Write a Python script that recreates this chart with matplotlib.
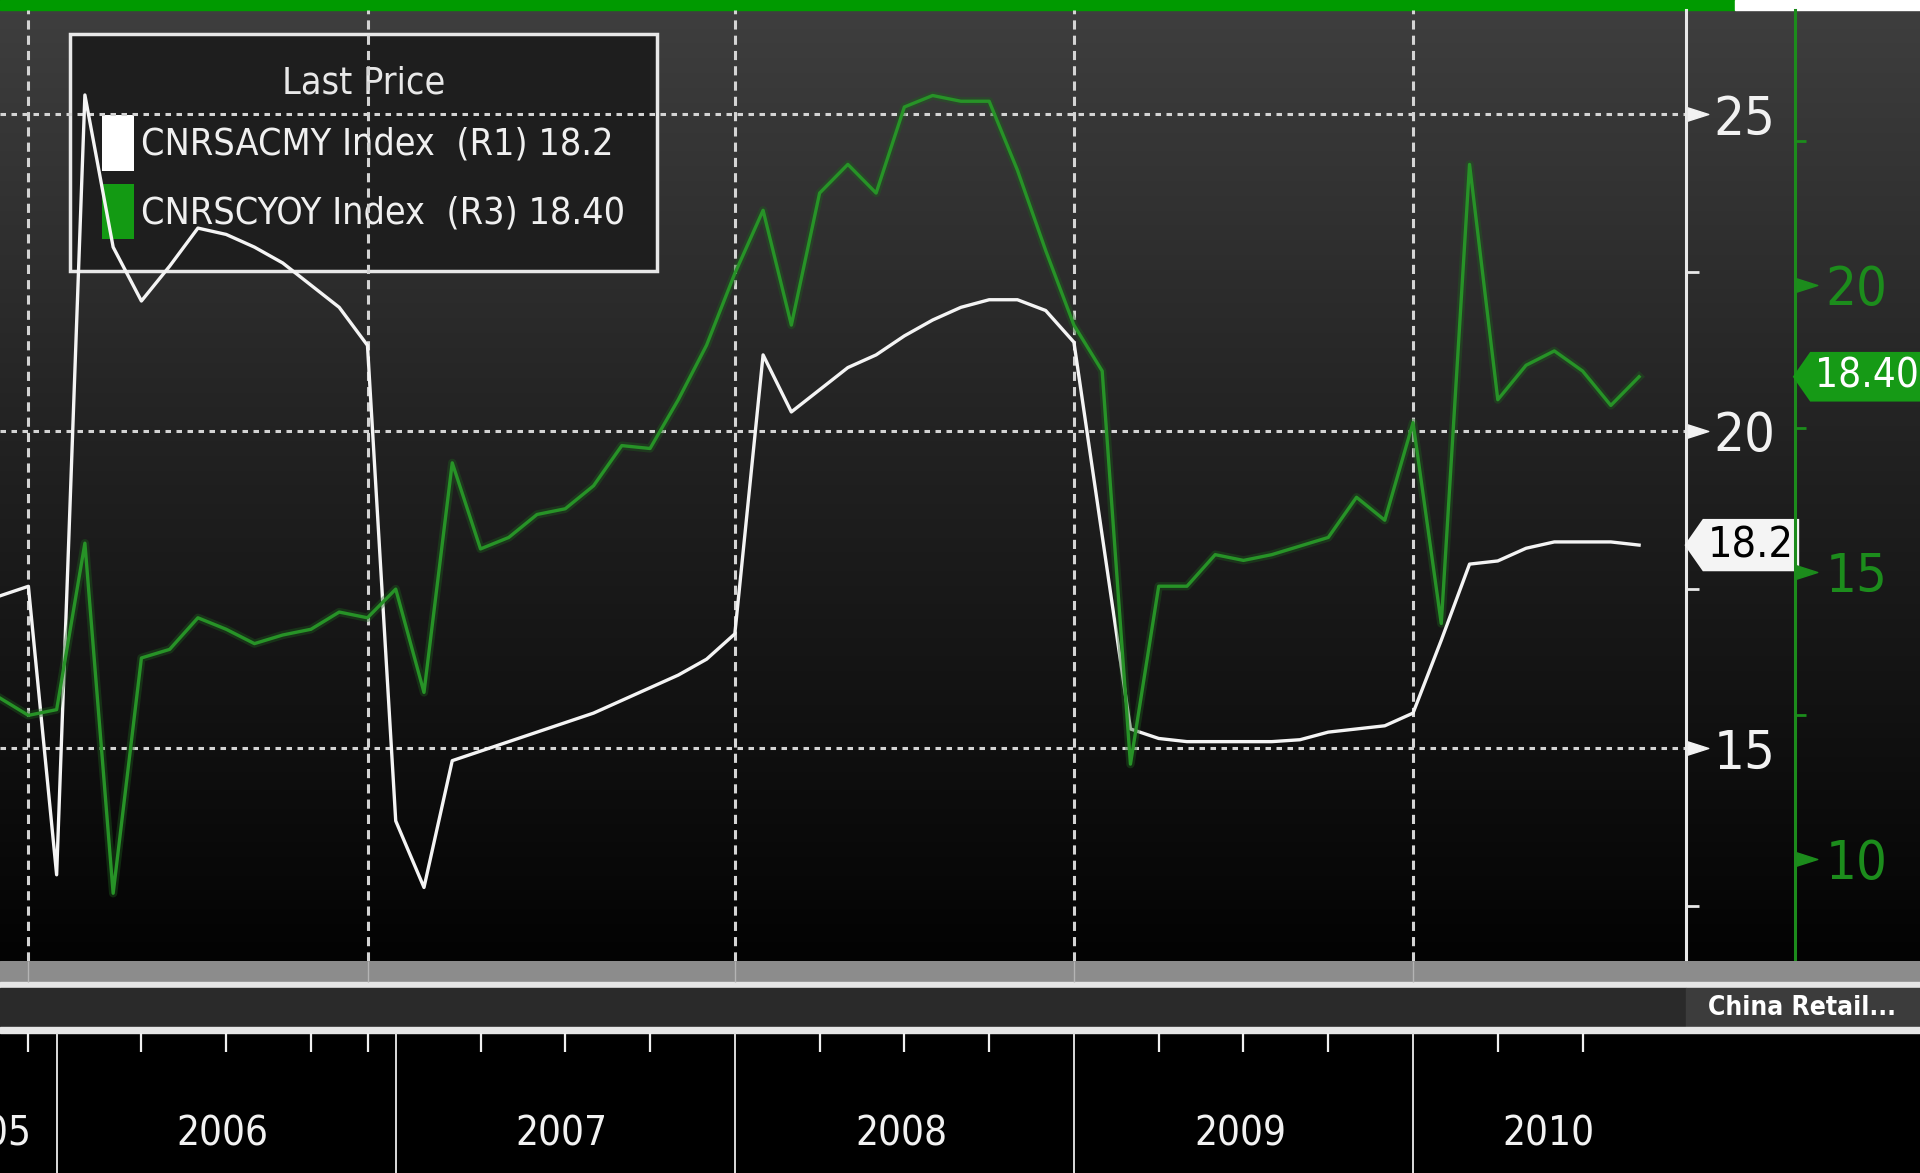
import numpy as np
import matplotlib
matplotlib.use('Agg')
import matplotlib.pyplot as plt
from matplotlib.colors import LinearSegmentedColormap
from matplotlib.patches import Patch, Rectangle
from matplotlib.path import Path

plt.rcParams['font.family'] = ['DejaVu Sans']
plt.rcParams['font.stretch'] = 'condensed'

# monthly points, first one plotted at Nov 2005
start_year, start_month = 2005, 10

# CNRSACMY Index (white, left scale R1)
retail_ytd = [17.4, 17.55, 13.0, 25.3, 22.9, 22.05, 22.6, 23.2, 23.1, 22.9,
              22.65, 22.3, 21.95, 21.35, 13.85, 12.8, 14.8, 14.95, 15.1, 15.25,
              15.4, 15.55, 15.75, 15.95, 16.15, 16.4, 16.8, 21.2, 20.3, 20.65,
              21.0, 21.2, 21.5, 21.75, 21.95, 22.07, 22.07, 21.9, 21.4, 18.35,
              15.3, 15.15, 15.1, 15.1, 15.1, 15.1, 15.13, 15.25, 15.3, 15.35,
              15.55, 16.7, 17.9, 17.95, 18.15, 18.25, 18.25, 18.25, 18.2]

# CNRSCYOY Index (green, scale R3)
retail_yoy = [12.8, 12.5, 12.6, 15.5, 9.4, 13.5, 13.65, 14.2, 14.0, 13.75,
              13.9, 14.0, 14.3, 14.2, 14.7, 12.9, 16.9, 15.4, 15.6, 16.0,
              16.1, 16.5, 17.2, 17.15, 18.0, 18.95, 20.2, 21.3, 19.3, 21.6,
              22.1, 21.6, 23.1, 23.3, 23.2, 23.2, 22.0, 20.6, 19.3, 18.5,
              11.65, 14.75, 14.75, 15.3, 15.2, 15.3, 15.45, 15.6, 16.3, 15.9,
              17.6, 14.1, 22.1, 18.0, 18.6, 18.85, 18.5, 17.9, 18.4]

white_ticks = [15, 20, 25]
white_minor = [12.5, 17.5, 22.5]
green_ticks = [10, 15, 20]
green_minor = [12.5, 17.5, 22.5]

grid_x = [2005.917, 2006.917, 2008.0, 2009.0, 2010.0]
year_ticks = [2006, 2007, 2008, 2009, 2010]
quarter_ticks = [2005.917, 2006.25, 2006.5, 2006.75, 2006.917, 2007.25, 2007.5,
                 2007.75, 2008.25, 2008.5, 2008.75, 2009.25, 2009.5, 2009.75,
                 2010.25, 2010.5]
year_labels = ['2005', '2006', '2007', '2008', '2009', '2010']
year_label_x = [2005.79, 2006.49, 2007.49, 2008.49, 2009.49, 2010.40]

x = start_year + (start_month + np.arange(len(retail_ytd))) / 12
x_left, x_right = 2005.833, 2010.805

W, H = 1920, 1173
PLOT_R, PLOT_T, PLOT_B = 1686, 10, 961
GREEN_AX = 1795

fig = plt.figure(figsize=(W / 100, H / 100), dpi=100, facecolor='black')

# background gradient + top bar
bg = fig.add_axes([0, 0, 1, 1], zorder=-10)
bg.set_xlim(0, W)
bg.set_ylim(H, 0)
bg.axis('off')
cmap = LinearSegmentedColormap.from_list('bb', ['#3e3e3e', '#1f1f1f', '#030303'])
bg.imshow(np.linspace(0, 1, 256)[:, None], cmap=cmap, aspect='auto',
          extent=(0, W, PLOT_B, PLOT_T))
bg.add_patch(Rectangle((0, 0), 1735, PLOT_T, color='#009a00'))
bg.add_patch(Rectangle((1735, 0), W - 1735, PLOT_T, color='white'))


def flag_shape(x0, y0, width, height, mutation_size):
    pad = 0.12 * mutation_size
    x0, y0 = x0 - pad, y0 - pad
    width, height = width + 2 * pad, height + 2 * pad
    tip = 0.35 * height
    verts = [(x0 - tip, y0 + height / 2), (x0, y0), (x0 + width, y0),
             (x0 + width, y0 + height), (x0, y0 + height), (x0 - tip, y0 + height / 2)]
    codes = [Path.MOVETO] + [Path.LINETO] * 4 + [Path.CLOSEPOLY]
    return Path(verts, codes)


tri = Path([(0, -0.32), (1, 0), (0, 0.32), (0, -0.32)],
           [Path.MOVETO, Path.LINETO, Path.LINETO, Path.CLOSEPOLY])

# main plot (white scale) and green scale
ax = fig.add_axes([0, 1 - PLOT_B / H, PLOT_R / W, (PLOT_B - PLOT_T) / H])
ax2 = ax.twinx()
ax.set_facecolor('none')
ax.set_xlim(x_left, x_right)
ax.set_ylim(11.64, 26.64)
ax.set_xticks([])
for s in ['left', 'top', 'bottom']:
    ax.spines[s].set_visible(False)
ax.spines['right'].set_color('#e8e8e8')
ax.spines['right'].set_linewidth(2.2)
ax.yaxis.tick_right()
ax.set_yticks(white_ticks)
ax.set_yticks(white_minor, minor=True)
ax.tick_params(axis='y', which='major', length=0, pad=20, labelsize=39, labelcolor='#f2f2f2')
ax.tick_params(axis='y', which='minor', length=9, width=2, color='#e8e8e8')
ax.plot([1] * len(white_ticks), white_ticks, ls='none', marker=tri, ms=32,
        color='#f2f2f2', transform=ax.get_yaxis_transform(), clip_on=False)

for v in white_ticks:
    ax.axhline(v, color='#d4d4d4', lw=2.2, ls=(0, (1.8, 1.8)), zorder=1.5)
for g in grid_x:
    ax.axvline(g, color='#d4d4d4', lw=2.2, ls=(0, (3, 2)), zorder=1.5)

ax.plot(x, retail_ytd, color='#f4f4f4', lw=2.4, zorder=3)

handles = [Patch(facecolor='white', label=f'CNRSACMY Index  (R1) {retail_ytd[-1]:.1f}'),
           Patch(facecolor='#139a13', label=f'CNRSCYOY Index  (R3) {retail_yoy[-1]:.2f}')]
leg = ax.legend(handles=handles, title='Last Price', loc='upper left',
                bbox_to_anchor=(70 / PLOT_R, (PLOT_B - 34) / (PLOT_B - PLOT_T)),
                borderaxespad=0, fontsize=27, title_fontsize=27, fancybox=False,
                facecolor='#1e1e1e', edgecolor='#e8e8e8', framealpha=1,
                labelcolor='#f0f0f0', handlelength=0.85, handleheight=1.9,
                handletextpad=0.2, labelspacing=0.35, borderpad=0.85)
leg.get_title().set_color('#e8e8e8')
leg.get_frame().set_linewidth(2.5)
leg.set_zorder(1)

ax.text(1708 / PLOT_R, retail_ytd[-1], f'{retail_ytd[-1]:.1f}', transform=ax.get_yaxis_transform(),
        ha='left', va='center', fontsize=31, color='black', clip_on=False, zorder=6,
        bbox=dict(boxstyle=flag_shape, fc='#f4f4f4', ec='none'))

gpos = GREEN_AX / PLOT_R
ax2.set_ylim(8.22, 24.79)
for s in ['left', 'top', 'bottom']:
    ax2.spines[s].set_visible(False)
ax2.spines['right'].set_position(('axes', gpos))
ax2.spines['right'].set_color('#1c8c1c')
ax2.spines['right'].set_linewidth(2.2)
ax2.set_yticks(green_ticks)
ax2.set_yticks(green_minor, minor=True)
ax2.tick_params(axis='y', which='major', length=0, pad=22, labelsize=39, labelcolor='#1c8c1c')
ax2.tick_params(axis='y', which='minor', length=8, width=2, color='#1c8c1c')
ax2.plot([gpos] * len(green_ticks), green_ticks, ls='none', marker=tri, ms=32,
         color='#1c8c1c', transform=ax2.get_yaxis_transform(), clip_on=False)

ax2.plot(x, retail_yoy, color='#1d5e1d', lw=6, alpha=0.4, solid_joinstyle='round')
ax2.plot(x, retail_yoy, color='#279327', lw=2.4)

ax2.text(1815 / PLOT_R, retail_yoy[-1], f'{retail_yoy[-1]:.2f}', transform=ax2.get_yaxis_transform(),
         ha='left', va='center', fontsize=29, color='white', clip_on=False, zorder=6,
         bbox=dict(boxstyle=flag_shape, fc='#169a16', ec='none'))

# bottom strip: bands, date ticks, year labels
axb = fig.add_axes([0, 0, 1, (H - PLOT_B) / H])
axb.set_xlim(x_left, x_left + (x_right - x_left) * W / PLOT_R)
axb.set_ylim(H, PLOT_B)
axb.axis('off')
axb.axhspan(961, 982, color='#8c8c8c')
axb.axhspan(982, 988, color='#e6e6e6')
axb.axhspan(988, 1027, xmax=PLOT_R / W, color='#2a2a2a')
axb.axhspan(988, 1027, xmin=PLOT_R / W, color='#3c3c3c')
axb.axhspan(1027, 1033, color='#e6e6e6')
axb.vlines(grid_x, 961, 982, color='#b4b4b4', lw=1)
axb.vlines(quarter_ticks, 1033, 1052, color='#f0f0f0', lw=1.6)
axb.vlines(year_ticks, 1033, H, color='#dddddd', lw=1.4)
for pos, lab in zip(year_label_x, year_labels):
    axb.text(pos, 1135, lab, ha='center', va='center', fontsize=29, color='#f2f2f2')

fig.text(1708 / W, 1 - 1008 / H, 'China Retail...', fontsize=19, fontweight='bold',
         color='white', va='center', ha='left')

fig.savefig('out.png', dpi=100, facecolor='black')
